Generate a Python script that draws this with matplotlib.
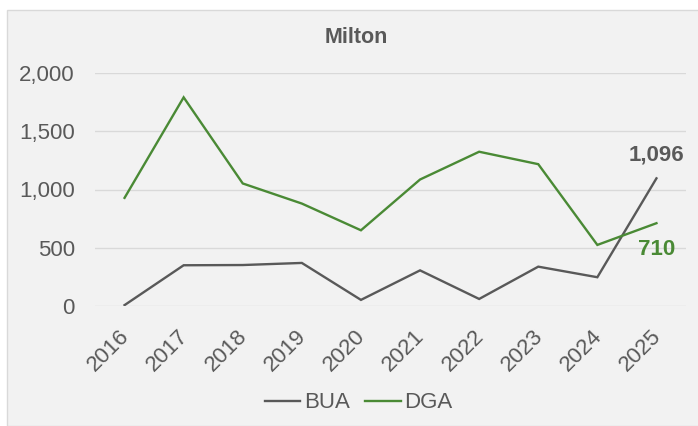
import matplotlib.pyplot as plt
import matplotlib.transforms as mtransforms
from matplotlib.patches import Rectangle

plt.rcParams['font.family'] = ['Liberation Sans', 'DejaVu Sans']

# Annual values for Milton
years = ['2016', '2017', '2018', '2019', '2020', '2021', '2022', '2023', '2024', '2025']
bua = [5, 348, 350, 368, 50, 304, 58, 336, 245, 1096]
dga = [928, 1793, 1052, 879, 649, 1086, 1325, 1218, 523, 710]
y_ticks = [0, 500, 1000, 1500, 2000]

grey = '#595959'
green = '#4a8a35'

fig = plt.figure(figsize=(6.98, 4.26), dpi=100, facecolor='white')
# chart panel background
fig.patches.append(Rectangle((7 / 698, 0), 1, (426 - 10) / 426, transform=fig.transFigure,
                             facecolor='#f2f2f2', edgecolor='#d9d9d9', lw=1, zorder=-10))

ax = fig.add_axes([95 / 698, 120.3 / 426, 591 / 698, 232.4 / 426])
ax.set_facecolor('none')

x = list(range(len(years)))
ax.plot(x, bua, color=grey, lw=1.7, label='BUA', solid_joinstyle='miter')
ax.plot(x, dga, color=green, lw=1.7, label='DGA', solid_joinstyle='miter')

ax.set_xlim(-0.5, len(years) - 0.5)
ax.set_ylim(0, 2000)
ax.set_yticks(y_ticks)
ax.set_yticklabels([f'{v:,}' for v in y_ticks])
ax.set_xticks(x)
ax.set_xticklabels(years, rotation=45, ha='right', va='top', rotation_mode='anchor')

ax.grid(axis='y', color='#d9d9d9', lw=1)
ax.set_axisbelow(True)
for s in ax.spines.values():
    s.set_visible(False)
ax.tick_params(axis='both', length=0, labelsize=16, colors=grey)
ax.tick_params(axis='y', pad=14.5)
ax.tick_params(axis='x', pad=14.5)

# nudge the slanted year labels a little to the left
shift = mtransforms.ScaledTranslation(-6 / 100, 0, fig.dpi_scale_trans)
for lbl in ax.get_xticklabels():
    lbl.set_transform(lbl.get_transform() + shift)

# value labels on the last year
ax.annotate(f'{bua[-1]:,}', (x[-1], bua[-1]), xytext=(0, 17), textcoords='offset points',
            ha='center', va='center', fontsize=16, fontweight='bold', color=grey)
ax.annotate(f'{dga[-1]:,}', (x[-1], dga[-1]), xytext=(0, -19), textcoords='offset points',
            ha='center', va='center', fontsize=16, fontweight='bold', color=green)

fig.text(356 / 698, 0.913, 'Milton', ha='center', va='center', fontsize=15.5,
         fontweight='bold', color=grey)

fig.legend(loc='center', bbox_to_anchor=(358.5 / 698, 23 / 426), ncol=2, frameon=False,
           fontsize=16, handlelength=1.6, handletextpad=0.15, columnspacing=0.7,
           labelcolor=grey)

fig.savefig('out.png', dpi=100)
